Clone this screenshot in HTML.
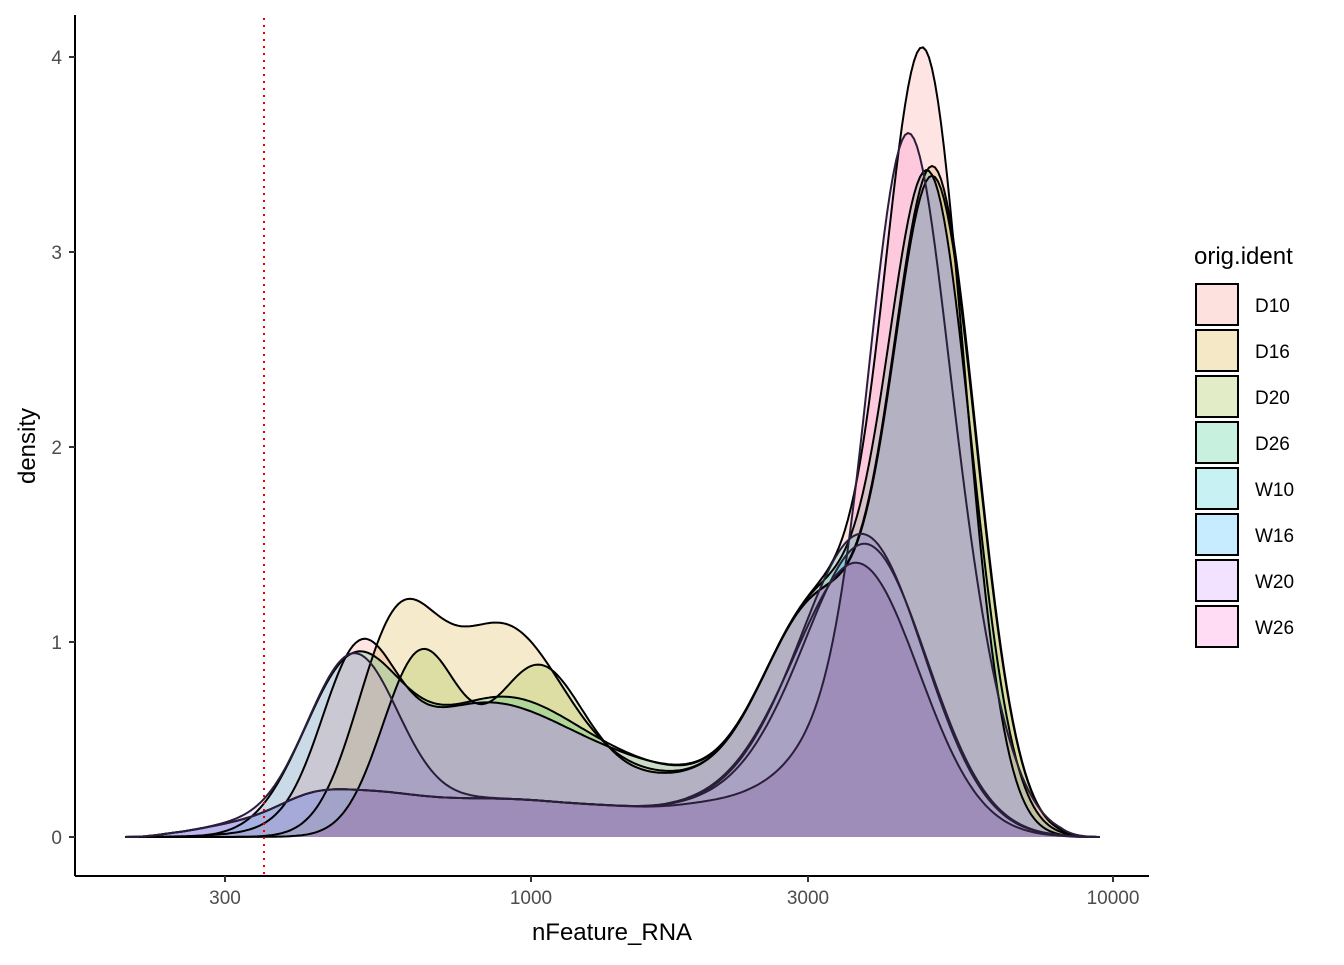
<!DOCTYPE html>
<html><head><meta charset="utf-8"><style>
body{margin:0;background:#fff;}
svg text{font-family:"Liberation Sans",Arial,sans-serif;}
</style></head><body>
<svg id="s" width="1344" height="960" xmlns="http://www.w3.org/2000/svg">
<g id="plot"></g>
<line x1="264" y1="18" x2="264" y2="876" stroke="#e00" stroke-width="2" stroke-dasharray="2,5"/>
<line x1="75" y1="15" x2="75" y2="876" stroke="#000" stroke-width="2"/>
<line x1="75" y1="876" x2="1149" y2="876" stroke="#000" stroke-width="2"/>
<g stroke="#333" stroke-width="2">
<line x1="69" y1="837" x2="75" y2="837"/><line x1="69" y1="642" x2="75" y2="642"/><line x1="69" y1="447" x2="75" y2="447"/><line x1="69" y1="252" x2="75" y2="252"/><line x1="69" y1="57" x2="75" y2="57"/>
<line x1="225" y1="876" x2="225" y2="882"/><line x1="531" y1="876" x2="531" y2="882"/><line x1="808" y1="876" x2="808" y2="882"/><line x1="1113" y1="876" x2="1113" y2="882"/>
</g>
<g font-size="19" fill="#4d4d4d" text-anchor="end">
<text x="62" y="844">0</text><text x="62" y="649">1</text><text x="62" y="454">2</text><text x="62" y="259">3</text><text x="62" y="64">4</text>
</g>
<g font-size="19" fill="#4d4d4d" text-anchor="middle">
<text x="225" y="904">300</text><text x="531" y="904">1000</text><text x="808" y="904">3000</text><text x="1113" y="904">10000</text>
</g>
<text x="612" y="940" font-size="24" text-anchor="middle">nFeature_RNA</text>
<text transform="translate(35,446) rotate(-90)" font-size="24" text-anchor="middle">density</text>
<text x="1194" y="264" font-size="24">orig.ident</text>
<g id="leg"></g>
</svg>
<script>
var cols=["#F8766D","#CD9600","#7CAE00","#00BE67","#00BFC4","#00A9FF","#C77CFF","#FF61CC"];
var names=["D10","D16","D20","D26","W10","W16","W20","W26"];
var big=[[650,0.3,110],[820,1.1,55]];
var low=[[250,0.07,50],[310,0.12,35],[370,0.17,45],[450,0.13,50],[530,0.13,50],[620,0.12,50],[700,0.1,40],[760,0.12,40]];
var S=[
 big.concat([[925,3.85,40],[357,0.72,36],[470,0.6,90]]),
 big.concat([[935,3.3,42],[395,0.95,40],[500,0.95,60]]),
 big.concat([[935,3.25,42],[420,0.9,38],[535,0.7,45]]),
 big.concat([[930,3.25,42],[350,0.8,48],[490,0.6,80]]),
 low.concat([[862,1.55,62]]),
 low.concat([[865,1.5,62]]),
 low.concat([[857,1.4,62],[355,0.7,42]]),
 low.concat([[903,2.4,36],[850,0.6,50],[945,1.3,45]])
];
var g=document.getElementById('plot'),ns="http://www.w3.org/2000/svg";
var xs=[];for(var x=125;x<=1101;x+=3)xs.push(x);
var V=S.map(function(s){return xs.map(function(x){
  var v=0;s.forEach(function(c){v+=c[1]*Math.exp(-(x-c[0])*(x-c[0])/(2*c[2]*c[2]));});
  var t=Math.min((x-125)/40,(1101-x)/40,1);return v*(t<1?t:1);});});
function path(vals,close){
 var d=(close?"M125,837 L":"M")+xs.map(function(x,j){return x+","+(837-195*vals[j]).toFixed(1);}).join(" L");
 if(close)d+=" L1101,837 Z";return d;}
function add(d,fill,op,stroke){
 var p=document.createElementNS(ns,'path');p.setAttribute('d',d);
 p.setAttribute('fill',fill);p.setAttribute('fill-opacity',op);
 if(stroke){p.setAttribute('stroke',stroke);p.setAttribute('stroke-width','2');}
 g.appendChild(p);}
for(var i=0;i<8;i++)add(path(V[i],true),cols[i],0.2);
var minD=xs.map(function(x,j){return Math.min(V[0][j],V[1][j],V[2][j],V[3][j]);});
add(path(minD,true),"#b4b1c2",1);
var minAll=xs.map(function(x,j){var m=9;for(var i=0;i<8;i++)m=Math.min(m,V[i][j]);return m;});
var maxW=xs.map(function(x,j){return Math.min(Math.max(V[4][j],V[5][j],V[6][j]),minD[j]);});
add(path(maxW,true),"#aaa2c2",1);
add(path(minAll,true),"#9d8db8",1);
for(var i=0;i<8;i++)add(path(V[i],false),"none",0,i>=4?"#2a1f3a":"#000");
var L=document.getElementById('leg');
for(var i=0;i<8;i++){
 var y=284+46*i;
 var r=document.createElementNS(ns,'rect');
 r.setAttribute('x',1196);r.setAttribute('y',y);r.setAttribute('width',42);r.setAttribute('height',41);
 r.setAttribute('fill',cols[i]);r.setAttribute('fill-opacity','0.22');r.setAttribute('stroke','#000');r.setAttribute('stroke-width','2');
 L.appendChild(r);
 var t=document.createElementNS(ns,'text');t.setAttribute('x',1255);t.setAttribute('y',y+28);t.setAttribute('font-size','19');
 t.textContent=names[i];L.appendChild(t);
}
</script>
</body></html>
